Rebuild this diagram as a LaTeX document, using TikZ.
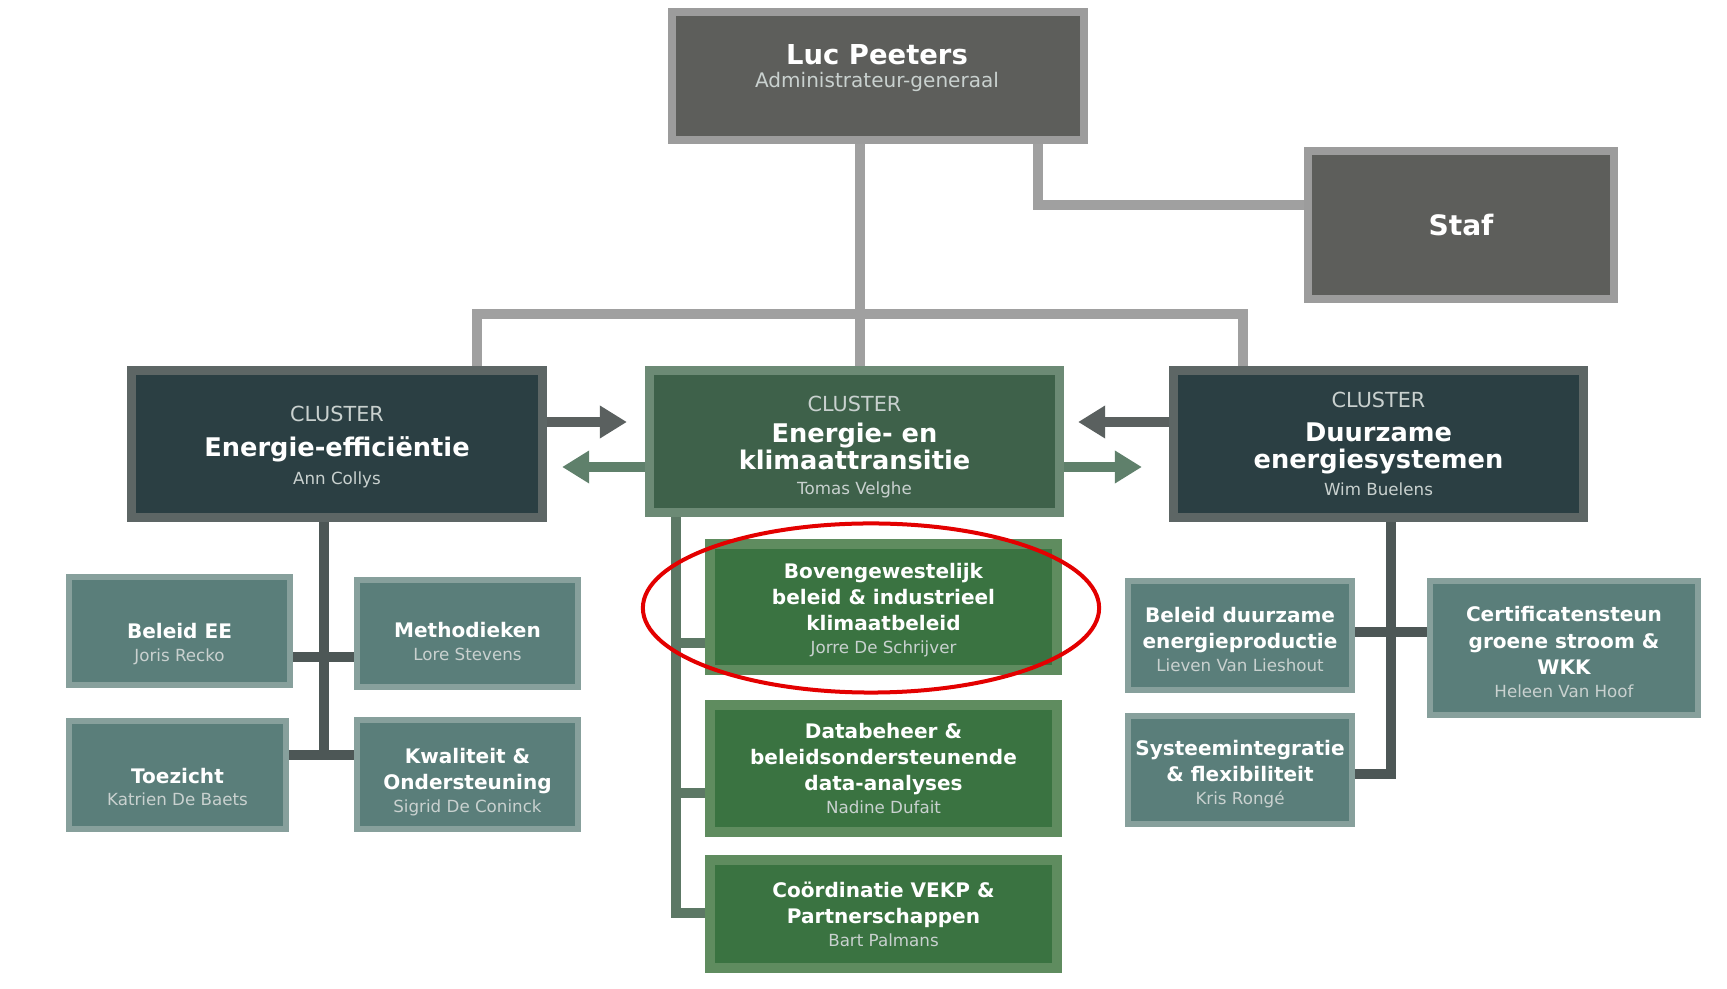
\documentclass[tikz,border=0pt]{standalone}
\usepackage{fontspec}
\setmainfont{DejaVu Sans}
\usetikzlibrary{arrows.meta,backgrounds}
\definecolor{bossfill}{HTML}{5D5E5B}
\definecolor{bossedge}{HTML}{9C9C9C}
\definecolor{trunkgray}{HTML}{A0A0A0}
\definecolor{clusterfill}{HTML}{2B3F43}
\definecolor{clusteredge}{HTML}{5D6665}
\definecolor{midfill}{HTML}{3E614A}
\definecolor{midedge}{HTML}{6C8A75}
\definecolor{teamfill}{HTML}{5A7E7A}
\definecolor{teamedge}{HTML}{87A09C}
\definecolor{teamline}{HTML}{4D5756}
\definecolor{greenfill}{HTML}{3A7341}
\definecolor{greenedge}{HTML}{5F8C5F}
\definecolor{greenline}{HTML}{5C7865}
\definecolor{arrowdark}{HTML}{5A605F}
\definecolor{arrowgreen}{HTML}{5F806B}
\definecolor{namegray}{HTML}{C9D1CF}
\definecolor{ringred}{HTML}{E30000}
\newcommand{\ttlfont}{\bfseries\fontsize{5.7}{7.5}\selectfont}
\newcommand{\who}{\mdseries\fontsize{4.75}{6}\selectfont\color{namegray}}
\newcommand{\clu}{\mdseries\fontsize{5.9}{7}\selectfont\color{namegray}}
\newcommand{\topgap}[1]{\rule{0pt}{#1}}
\begin{document}
\begin{tikzpicture}[x=0.01cm,y=-0.01cm,
    boxbase/.style={rectangle, align=center, text=white, inner sep=0pt, outer sep=0pt},
    topbox/.style={boxbase, fill=bossfill, draw=bossedge, line width=0.08cm},
    clusterbox/.style={boxbase, fill=clusterfill, draw=clusteredge, line width=0.09cm,
        minimum width=4.1cm, minimum height=1.47cm, font=\bfseries\fontsize{7.3}{7.8}\selectfont},
    midbox/.style={clusterbox, fill=midfill, draw=midedge, minimum height=1.42cm},
    teambox/.style={boxbase, fill=teamfill, draw=teamedge, line width=0.06cm, font=\ttlfont},
    greenbox/.style={boxbase, fill=greenfill, draw=greenedge, line width=0.1cm,
        minimum width=3.47cm, font=\ttlfont},
    trunk/.style={draw=trunkgray, line width=0.095cm},
    teamlink/.style={draw=teamline, line width=0.1cm},
    greenlink/.style={draw=greenline, line width=0.1cm},
    flow/.style={line width=0.1cm, -{Triangle[length=0.27cm,width=0.31cm]}},
    redring/.style={draw=ringred, line width=0.04cm}]
\useasboundingbox (0,0) rectangle (1727,989);

\node[topbox, minimum width=4.12cm, minimum height=1.28cm] (boss) at (878,76) {};
\node[boxbase, font=\fontsize{8}{6.6}\selectfont] (bossText) at (877,68)
    {{\bfseries\fontsize{7.8}{6.6}\selectfont Luc Peeters}\\
     {\fontsize{5.7}{6.6}\selectfont\color{namegray} Administrateur-generaal}};
\node[topbox, minimum width=3.06cm, minimum height=1.48cm,
    font=\bfseries\fontsize{8}{9}\selectfont] (staf) at (1461,225) {Staf};

\node[clusterbox] (left) at (337,444)
    {\topgap{6.2pt}{\clu CLUSTER}\\[2.2pt] Energie-efficiëntie\\[0.3pt]{\who Ann Collys}};
\node[midbox] (mid) at (854.5,441.5)
    {\topgap{7.4pt}{\clu CLUSTER}\\[1pt] Energie- en\\klimaattransitie\\[-0.7pt]{\who Tomas Velghe}};
\node[clusterbox] (right) at (1378.5,444)
    {{\clu CLUSTER}\\[1.6pt] Duurzame\\energiesystemen\\[-0.2pt]{\who Wim Buelens}};

\node[teambox, minimum width=2.21cm, minimum height=1.08cm] (bee) at (179.5,631)
    {\topgap{11.7pt}Beleid EE\\[-1pt]{\who Joris Recko}};
\node[teambox, minimum width=2.21cm, minimum height=1.07cm] (meth) at (467.5,633.5)
    {\topgap{8.7pt}Methodieken\\[-1pt]{\who Lore Stevens}};
\node[teambox, minimum width=2.17cm, minimum height=1.08cm] (toez) at (177.5,775)
    {\topgap{11.2pt}Toezicht\\[-1pt]{\who Katrien De Baets}};
\node[teambox, minimum width=2.21cm, minimum height=1.09cm] (kwal) at (467.5,774.5)
    {\topgap{8.7pt}Kwaliteit \&\\Ondersteuning\\[-1pt]{\who Sigrid De Coninck}};

\node[greenbox, minimum height=1.26cm] (bov) at (883.5,607)
    {\topgap{6pt}Bovengewestelijk\\beleid \& industrieel\\klimaatbeleid\\[-1pt]{\who Jorre De Schrijver}};
\node[greenbox, minimum height=1.27cm] (data) at (883.5,768.5)
    {Databeheer \&\\beleidsondersteunende\\data-analyses\\[-1pt]{\who Nadine Dufait}};
\node[greenbox, minimum height=1.08cm] (coord) at (883.5,914)
    {Coördinatie VEKP \&\\Partnerschappen\\[-1pt]{\who Bart Palmans}};

\node[teambox, minimum width=2.24cm, minimum height=1.09cm] (bdp) at (1240,635.5)
    {\topgap{6.6pt}Beleid duurzame\\energieproductie\\[-1pt]{\who Lieven Van Lieshout}};
\node[teambox, minimum width=2.24cm, minimum height=1.08cm] (sys) at (1240,770)
    {\topgap{6.6pt}Systeemintegratie\\\& flexibiliteit\\[-1pt]{\who Kris Rongé}};
\node[teambox, minimum width=2.68cm, minimum height=1.34cm] (cert) at (1564,648)
    {\topgap{6.6pt}Certificatensteun\\groene stroom \&\\WKK\\[-1pt]{\who Heleen Van Hoof}};

\coordinate (hub) at (860,314);
\coordinate (lx) at (477,314);
\coordinate (rx) at (1243,314);
\coordinate (sx) at (1038,205);
\coordinate (ya) at (0,422);
\coordinate (yb) at (0,467);
\coordinate (lj1) at (324,657);
\coordinate (lj2) at (324,755);
\coordinate (mj1) at (676,643);
\coordinate (mj2) at (676,793);
\coordinate (mj3) at (676,913);
\coordinate (rj1) at (1391,632);
\coordinate (rj2) at (1391,774);
\coordinate (ring) at (871,608);

\begin{pgfonlayer}{background}
\fill[white] (0,0) rectangle (1727,989);
\draw[trunk] (boss.south -| hub) -- (mid.north -| hub);
\draw[trunk] (left.north -| lx) |- (rx) -- (right.north -| rx);
\draw[trunk] (boss.south -| sx) |- (staf.west |- sx);
\draw[flow, arrowdark, shorten >=0.225cm] (left.east |- ya) -- (mid.west |- ya);
\draw[flow, arrowgreen, shorten >=0.2cm] (mid.west |- yb) -- (left.east |- yb);
\draw[flow, arrowdark, shorten >=0.185cm] (right.west |- ya) -- (mid.east |- ya);
\draw[flow, arrowgreen, shorten >=0.315cm] (mid.east |- yb) -- (right.west |- yb);
\draw[teamlink] (left.south -| lj1) -- (lj2);
\draw[teamlink] (bee.east |- lj1) -- (meth.west |- lj1);
\draw[teamlink] (toez.east |- lj2) -- (kwal.west |- lj2);
\draw[greenlink] (mid.south -| mj3) |- (coord.west |- mj3);
\draw[greenlink] (mj1) -- (bov.west |- mj1);
\draw[greenlink] (mj2) -- (data.west |- mj2);
\draw[teamlink] (right.south -| rj1) |- (sys.east |- rj2);
\draw[teamlink] (bdp.east |- rj1) -- (cert.west |- rj1);
\end{pgfonlayer}

\draw[redring] (ring) ellipse [x radius=2.28cm, y radius=0.845cm];
\end{tikzpicture}
\end{document}
